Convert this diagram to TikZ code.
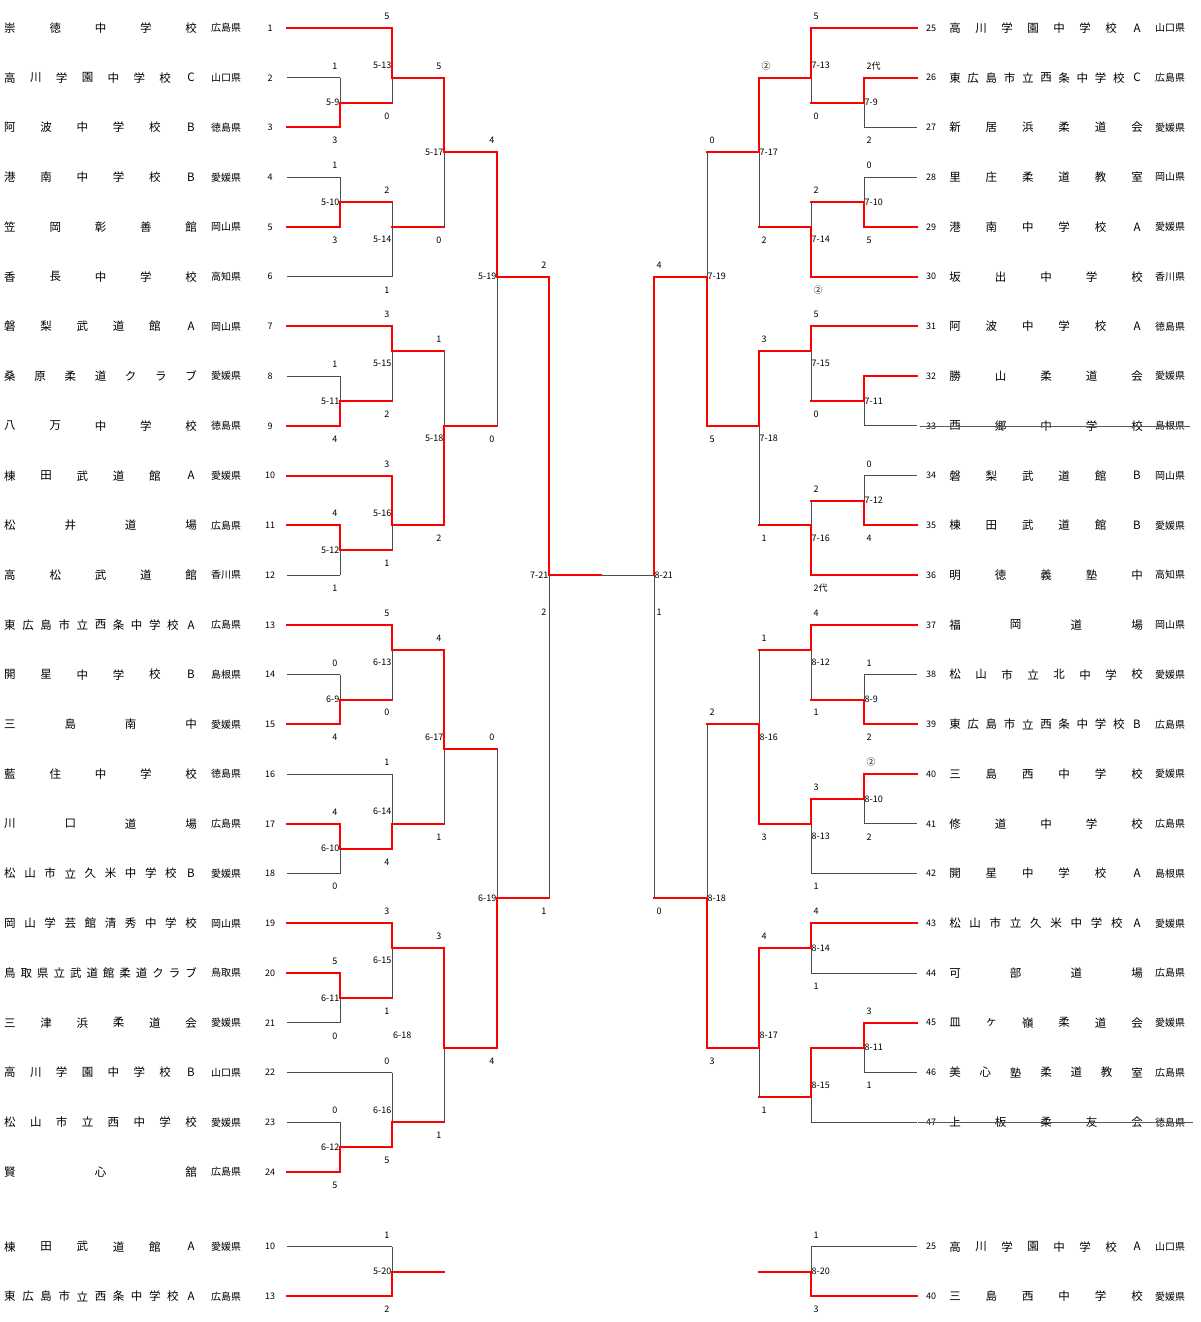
\documentclass[tikz,border=0pt]{standalone}
\usepackage{fontspec}
\setmainfont{Noto Sans CJK JP}
\usetikzlibrary{calc}
\tikzset{
  win/.style={red,line width=2pt,line cap=rect},
  lose/.style={black!70,line width=0.9pt},
  strike/.style={black!65,line width=0.8pt},
  nm/.style={inner sep=0pt,font=\fontsize{11.5}{12}\selectfont},
  pref/.style={inner sep=0pt,font=\fontsize{10}{11}\selectfont},
  num/.style={inner sep=0pt,font=\fontsize{9}{10}\selectfont},
  sc/.style={inner sep=0pt,font=\fontsize{9}{10}\selectfont},
  mid/.style={inner sep=0pt,font=\fontsize{9}{10}\selectfont}
}
\newcommand{\lteam}[7]{%
  \node[num] (#2n) at (270,#1) {#3};
  \node[pref] (#2p) at (226,#1) {#5};
  \foreach \ch [count=\i] in {#4} {\xdef\nch{\i}}
  \foreach \ch [count=\i] in {#4}
    \node[nm] (#2c\i) at ({10+(\i-1)*181/(\nch-1)},#1) {\ch};
  \draw[#6] (287,#1) -- (#7,#1);
}
\newcommand{\rteam}[7]{%
  \node[num] (#2n) at (931,#1) {#3};
  \node[pref] (#2p) at (1170,#1) {#5};
  \foreach \ch [count=\i] in {#4} {\xdef\nch{\i}}
  \foreach \ch [count=\i] in {#4}
    \node[nm] (#2c\i) at ({955+(\i-1)*182/(\nch-1)},#1) {\ch};
  \draw[#6] (#7,#1) -- (917,#1);
}
\newcommand{\bout}[6]{%
  \draw[lose] (#1,#2) -- (#1,#3);
  \draw[win] (#1,#6) -- (#1,#4) -- (#5,#4);
}
\newcommand{\lsc}[7]{%
  \node[mid,anchor=east] (m#5) at ({#1-0.5},#4) {#5};
  \node[sc,anchor=east] (m#5a) at ({#1-2.5},{#2-0.47}) {#6};
  \node[sc,anchor=east] (m#5b) at ({#1-2.5},{#3+0.53}) {#7};
}
\newcommand{\rsc}[7]{%
  \node[mid,anchor=west] (m#5) at ({#1+0.5},#4) {#5};
  \node[sc,anchor=west] (m#5a) at ({#1+2.5},{#2-0.47}) {#6};
  \node[sc,anchor=west] (m#5b) at ({#1+2.5},{#3+0.53}) {#7};
}

\begin{document}
\begin{tikzpicture}[x=1pt,y=-24.87pt]
  \useasboundingbox (0,-1.126) rectangle (1200,52.03);

  \lteam{0}{t1}{1}{崇,徳,中,学,校}{広島県}{win}{392}
  \lteam{2}{t2}{2}{高,川,学,園,中,学,校,C}{山口県}{lose}{340}
  \lteam{4}{t3}{3}{阿,波,中,学,校,B}{徳島県}{win}{340}
  \lteam{6}{t4}{4}{港,南,中,学,校,B}{愛媛県}{lose}{340}
  \lteam{8}{t5}{5}{笠,岡,彰,善,館}{岡山県}{win}{340}
  \lteam{10}{t6}{6}{香,長,中,学,校}{高知県}{lose}{392}
  \lteam{12}{t7}{7}{磐,梨,武,道,館,A}{岡山県}{win}{392}
  \lteam{14}{t8}{8}{桑,原,柔,道,ク,ラ,ブ}{愛媛県}{lose}{340}
  \lteam{16}{t9}{9}{八,万,中,学,校}{徳島県}{win}{340}
  \lteam{18}{t10}{10}{棟,田,武,道,館,A}{愛媛県}{win}{392}
  \lteam{20}{t11}{11}{松,井,道,場}{広島県}{win}{340}
  \lteam{22}{t12}{12}{高,松,武,道,館}{香川県}{lose}{340}
  \lteam{24}{t13}{13}{東,広,島,市,立,西,条,中,学,校,A}{広島県}{win}{392}
  \lteam{26}{t14}{14}{開,星,中,学,校,B}{島根県}{lose}{340}
  \lteam{28}{t15}{15}{三,島,南,中}{愛媛県}{win}{340}
  \lteam{30}{t16}{16}{藍,住,中,学,校}{徳島県}{lose}{392}
  \lteam{32}{t17}{17}{川,口,道,場}{広島県}{win}{340}
  \lteam{34}{t18}{18}{松,山,市,立,久,米,中,学,校,B}{愛媛県}{lose}{340}
  \lteam{36}{t19}{19}{岡,山,学,芸,館,清,秀,中,学,校}{岡山県}{win}{392}
  \lteam{38}{t20}{20}{鳥,取,県,立,武,道,館,柔,道,ク,ラ,ブ}{鳥取県}{win}{340}
  \lteam{40}{t21}{21}{三,津,浜,柔,道,会}{愛媛県}{lose}{340}
  \lteam{42}{t22}{22}{高,川,学,園,中,学,校,B}{山口県}{lose}{392}
  \lteam{44}{t23}{23}{松,山,市,立,西,中,学,校}{愛媛県}{lose}{340}
  \lteam{46}{t24}{24}{賢,心,舘}{広島県}{win}{340}
  \lteam{49}{u10}{10}{棟,田,武,道,館,A}{愛媛県}{lose}{392}
  \lteam{51}{u13}{13}{東,広,島,市,立,西,条,中,学,校,A}{広島県}{win}{392}

  \rteam{0}{t25}{25}{高,川,学,園,中,学,校,A}{山口県}{win}{811}
  \rteam{2}{t26}{26}{東,広,島,市,立,西,条,中,学,校,C}{広島県}{win}{864}
  \rteam{4}{t27}{27}{新,居,浜,柔,道,会}{愛媛県}{lose}{864}
  \rteam{6}{t28}{28}{里,庄,柔,道,教,室}{岡山県}{lose}{864}
  \rteam{8}{t29}{29}{港,南,中,学,校,A}{愛媛県}{win}{864}
  \rteam{10}{t30}{30}{坂,出,中,学,校}{香川県}{win}{811}
  \rteam{12}{t31}{31}{阿,波,中,学,校,A}{徳島県}{win}{811}
  \rteam{14}{t32}{32}{勝,山,柔,道,会}{愛媛県}{win}{864}
  \rteam{16}{t33}{33}{西,郷,中,学,校}{島根県}{lose}{864}
  \rteam{18}{t34}{34}{磐,梨,武,道,館,B}{岡山県}{lose}{864}
  \rteam{20}{t35}{35}{棟,田,武,道,館,B}{愛媛県}{win}{864}
  \rteam{22}{t36}{36}{明,徳,義,塾,中}{高知県}{win}{811}
  \rteam{24}{t37}{37}{福,岡,道,場}{岡山県}{win}{811}
  \rteam{26}{t38}{38}{松,山,市,立,北,中,学,校}{愛媛県}{lose}{864}
  \rteam{28}{t39}{39}{東,広,島,市,立,西,条,中,学,校,B}{広島県}{win}{864}
  \rteam{30}{t40}{40}{三,島,西,中,学,校}{愛媛県}{win}{864}
  \rteam{32}{t41}{41}{修,道,中,学,校}{広島県}{lose}{864}
  \rteam{34}{t42}{42}{開,星,中,学,校,A}{島根県}{lose}{811}
  \rteam{36}{t43}{43}{松,山,市,立,久,米,中,学,校,A}{愛媛県}{win}{811}
  \rteam{38}{t44}{44}{可,部,道,場}{広島県}{lose}{811}
  \rteam{40}{t45}{45}{皿,ヶ,嶺,柔,道,会}{愛媛県}{win}{864}
  \rteam{42}{t46}{46}{美,心,塾,柔,道,教,室}{広島県}{lose}{864}
  \rteam{44}{t47}{47}{上,板,柔,友,会}{徳島県}{lose}{811}
  \rteam{49}{u25}{25}{高,川,学,園,中,学,校,A}{山口県}{lose}{811}
  \rteam{51}{u40}{40}{三,島,西,中,学,校}{愛媛県}{win}{811}
  \draw[strike] (920,16) -- (1190,16);
  \draw[strike] (918,44) -- (1193,44);

  \bout{340}{2}{4}{3}{392}{4} \lsc{340}{2}{4}{3}{5-9}{1}{3}
  \bout{392}{0}{3}{2}{444}{0} \lsc{392}{0}{3}{1.5}{5-13}{5}{0}
  \bout{340}{6}{8}{7}{392}{8} \lsc{340}{6}{8}{7}{5-10}{1}{3}
  \draw[lose] (392,7) -- (392,10);
  \draw[win] (392,8) -- (444,8);
  \lsc{392}{7}{10}{8.5}{5-14}{2}{1}
  \bout{444}{2}{8}{5}{497}{2} \lsc{444}{2}{8}{5}{5-17}{5}{0}
  \bout{340}{14}{16}{15}{392}{16} \lsc{340}{14}{16}{15}{5-11}{1}{4}
  \bout{392}{12}{15}{13}{444}{12} \lsc{392}{12}{15}{13.5}{5-15}{3}{2}
  \bout{340}{20}{22}{21}{392}{20} \lsc{340}{20}{22}{21}{5-12}{4}{1}
  \bout{392}{18}{21}{20}{444}{18} \lsc{392}{18}{21}{19.5}{5-16}{3}{1}
  \bout{444}{13}{20}{16}{497}{20} \lsc{444}{13}{20}{16.5}{5-18}{1}{2}
  \bout{497}{5}{16}{10}{549}{5} \lsc{497}{5}{16}{10}{5-19}{4}{0}
  \bout{340}{26}{28}{27}{392}{28} \lsc{340}{26}{28}{27}{6-9}{0}{4}
  \bout{392}{24}{27}{25}{444}{24} \lsc{392}{24}{27}{25.5}{6-13}{5}{0}
  \bout{340}{32}{34}{33}{392}{32} \lsc{340}{32}{34}{33}{6-10}{4}{0}
  \bout{392}{30}{33}{32}{444}{33} \lsc{392}{30}{33}{31.5}{6-14}{1}{4}
  \bout{444}{25}{32}{29}{497}{25} \lsc{444}{25}{32}{28.5}{6-17}{4}{1}
  \bout{340}{38}{40}{39}{392}{38} \lsc{340}{38}{40}{39}{6-11}{5}{0}
  \bout{392}{36}{39}{37}{444}{36} \lsc{392}{36}{39}{37.5}{6-15}{3}{1}
  \bout{340}{44}{46}{45}{392}{46} \lsc{340}{44}{46}{45}{6-12}{0}{5}
  \bout{392}{42}{45}{44}{444}{45} \lsc{392}{42}{45}{43.5}{6-16}{0}{5}
  \bout{444}{37}{44}{41}{497}{37}
  \node[mid,anchor=west] (m6-18) at (393,40.5) {6-18};
  \node[sc,anchor=east] (m6-18a) at (441.5,36.53) {3};
  \node[sc,anchor=east] (m6-18b) at (441.5,44.53) {1};
  \bout{497}{29}{41}{35}{549}{41} \lsc{497}{29}{41}{35}{6-19}{0}{4}
  \bout{549}{10}{35}{22}{601}{10} \lsc{549}{10}{35}{22}{7-21}{2}{1}
  \node[sc,anchor=east] (fl) at (546.5,23.5) {2};
  \bout{392}{49}{51}{50}{444}{51} \lsc{392}{49}{51}{50}{5-20}{1}{2}

  \bout{864}{2}{4}{3}{811}{2} \rsc{864}{2}{4}{3}{7-9}{2代}{2}
  \bout{811}{0}{3}{2}{759}{0} \rsc{811}{0}{3}{1.5}{7-13}{5}{0}
  \bout{864}{6}{8}{7}{811}{8} \rsc{864}{6}{8}{7}{7-10}{0}{5}
  \bout{811}{7}{10}{8}{759}{10} \rsc{811}{7}{10}{8.5}{7-14}{2}{②}
  \bout{759}{2}{8}{5}{707}{2} \rsc{759}{2}{8}{5}{7-17}{②}{2}
  \bout{864}{14}{16}{15}{811}{14} \rsc{864}{14}{16}{15}{7-11}{}{}
  \bout{811}{12}{15}{13}{759}{12} \rsc{811}{12}{15}{13.5}{7-15}{5}{0}
  \bout{864}{18}{20}{19}{811}{20} \rsc{864}{18}{20}{19}{7-12}{0}{4}
  \bout{811}{19}{22}{20}{759}{22} \rsc{811}{19}{22}{20.5}{7-16}{2}{2代}
  \bout{759}{13}{20}{16}{707}{13} \rsc{759}{13}{20}{16.5}{7-18}{3}{1}
  \bout{707}{5}{16}{10}{654}{16} \rsc{707}{5}{16}{10}{7-19}{0}{5}
  \bout{864}{26}{28}{27}{811}{28} \rsc{864}{26}{28}{27}{8-9}{1}{2}
  \bout{811}{24}{27}{25}{759}{24} \rsc{811}{24}{27}{25.5}{8-12}{4}{1}
  \bout{864}{30}{32}{31}{811}{30} \rsc{864}{30}{32}{31}{8-10}{②}{2}
  \bout{811}{31}{34}{32}{759}{31} \rsc{811}{31}{34}{32.5}{8-13}{3}{1}
  \bout{759}{25}{32}{28}{707}{32} \rsc{759}{25}{32}{28.5}{8-16}{1}{3}
  \bout{811}{36}{38}{37}{759}{36} \rsc{811}{36}{38}{37}{8-14}{4}{1}
  \bout{864}{40}{42}{41}{811}{40} \rsc{864}{40}{42}{41}{8-11}{3}{1}
  \bout{811}{41}{44}{43}{759}{41} \rsc{811}{41}{44}{42.5}{8-15}{}{}
  \bout{759}{37}{43}{41}{707}{37} \rsc{759}{37}{43}{40.5}{8-17}{4}{1}
  \bout{707}{28}{41}{35}{654}{41} \rsc{707}{28}{41}{35}{8-18}{2}{3}
  \draw[lose] (654,10) -- (654,35);
  \draw[lose] (654,22) -- (601,22);
  \draw[win] (654,10) -- (654,22);
  \rsc{654}{10}{35}{22}{8-21}{4}{0}
  \node[sc,anchor=west] (fr) at (656.5,23.5) {1};
  \bout{811}{49}{51}{50}{759}{51} \rsc{811}{49}{51}{50}{8-20}{1}{3}
\end{tikzpicture}
\end{document}
